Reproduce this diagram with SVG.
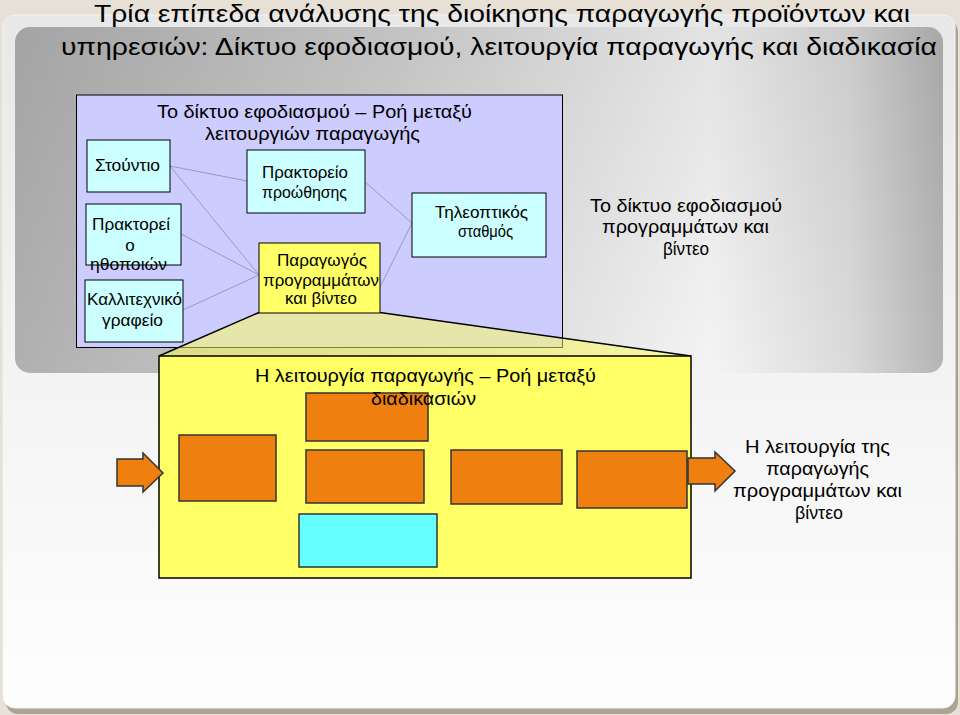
<svg xmlns="http://www.w3.org/2000/svg" width="960" height="715" viewBox="0 0 960 715">
<defs>
<linearGradient id="outerG" x1="0" y1="0" x2="0" y2="1"><stop offset="0" stop-color="#e8e8e8"/><stop offset="1" stop-color="#fefefe"/></linearGradient>
<linearGradient id="grayH" x1="0" y1="0" x2="1" y2="0"><stop offset="0" stop-color="#b0b0b0"/><stop offset="0.4" stop-color="#d0d0d0"/><stop offset="0.75" stop-color="#f4f4f4"/><stop offset="0.9" stop-color="#dadada"/><stop offset="1" stop-color="#b4b4b4"/></linearGradient>
<linearGradient id="grayV" x1="0" y1="0" x2="0" y2="1"><stop offset="0" stop-color="#000" stop-opacity="0.07"/><stop offset="1" stop-color="#000" stop-opacity="0"/></linearGradient>
<style>
text{font-family:"Liberation Sans",Arial,sans-serif;fill:#000}
.title{font-size:24px}
.t{font-size:17px}
.tm{font-size:18.5px}
.box{fill:#ccffff;stroke:#000;stroke-width:1}
.prod{fill:#ffff66;stroke:#000;stroke-width:1}
.or{fill:#ef8010;stroke:#333;stroke-width:1.5}
.cy{fill:#66ffff;stroke:#333;stroke-width:1.5}
.cb{stroke:#8a8ac0;stroke-width:0.8;fill:none}
.cy2{stroke:#cfc677;stroke-width:1;fill:none}
</style>
</defs>
<rect x="0" y="0" width="960" height="715" fill="#e6e0d6"/>
<rect x="6" y="20" width="952" height="694" rx="12" fill="#aca493"/>
<rect x="3" y="15" width="952" height="693" rx="12" fill="url(#outerG)" stroke="#f4f4f4" stroke-width="1"/>
<rect x="15" y="27" width="928" height="346" rx="15" fill="url(#grayH)"/>
<rect x="15" y="27" width="928" height="346" rx="15" fill="url(#grayV)"/>

<g id="title">
<text class="title" x="94" y="22" textLength="816" lengthAdjust="spacingAndGlyphs">Τρία επίπεδα ανάλυσης της διοίκησης παραγωγής προϊόντων και</text>
<text class="title" x="61" y="55" textLength="876" lengthAdjust="spacingAndGlyphs">υπηρεσιών: Δίκτυο εφοδιασμού, λειτουργία παραγωγής και διαδικασία</text>
</g>

<g id="supply-network">
<rect x="76.5" y="95" width="486" height="252.5" fill="#ccccff" stroke="#000" stroke-width="1"/>
<text class="tm" x="157" y="118" textLength="315" lengthAdjust="spacingAndGlyphs">Το δίκτυο εφοδιασμού – Ροή μεταξύ</text>
<text class="tm" x="205" y="140" textLength="215" lengthAdjust="spacingAndGlyphs">λειτουργιών παραγωγής</text>
</g>

<g id="connectors">
<line class="cb" x1="170" y1="166" x2="247" y2="181"/>
<line class="cb" x1="170" y1="166" x2="259" y2="275"/>
<line class="cb" x1="181" y1="234" x2="259" y2="275"/>
<line class="cb" x1="183" y1="310" x2="259" y2="275"/>
<line class="cb" x1="365" y1="182" x2="412" y2="223"/>
<line class="cb" x1="380" y1="287" x2="412" y2="223"/>
<line class="cy2" x1="276" y1="467" x2="306" y2="418"/>
<line class="cy2" x1="276" y1="469" x2="306" y2="476"/>
<line class="cy2" x1="276" y1="469" x2="299" y2="537"/>
<line class="cy2" x1="428" y1="420" x2="451" y2="477"/>
<line class="cy2" x1="424" y1="477" x2="451" y2="477"/>
<line class="cy2" x1="437" y1="533" x2="451" y2="477"/>
<line class="cy2" x1="562" y1="477" x2="577" y2="479"/>
</g>

<g id="studio"><rect class="box" x="87" y="140" width="83" height="52"/>
<text class="t" x="95" y="171" textLength="65" lengthAdjust="spacingAndGlyphs">Στούντιο</text></g>

<g id="actors-agency"><rect class="box" x="86" y="204" width="95" height="61"/>
<text class="t" x="92" y="230" textLength="78" lengthAdjust="spacingAndGlyphs">Πρακτορεί</text>
<text class="t" x="130" y="251" text-anchor="middle">ο</text>
<text class="t" x="90" y="270" textLength="77" lengthAdjust="spacingAndGlyphs">ηθοποιών</text></g>

<g id="artist-office"><rect class="box" x="85" y="280" width="98" height="62"/>
<text class="t" x="87" y="305" textLength="95" lengthAdjust="spacingAndGlyphs">Καλλιτεχνικό</text>
<text class="t" x="102" y="326" textLength="61" lengthAdjust="spacingAndGlyphs">γραφείο</text></g>

<g id="promo-agency"><rect class="box" x="247" y="150" width="118" height="63"/>
<text class="t" x="262" y="178" textLength="86" lengthAdjust="spacingAndGlyphs">Πρακτορείο</text>
<text class="t" x="262" y="198" textLength="85" lengthAdjust="spacingAndGlyphs">προώθησης</text></g>

<g id="tv-station"><rect class="box" x="412" y="193" width="134" height="64"/>
<text class="t" x="435" y="218" textLength="93" lengthAdjust="spacingAndGlyphs">Τηλεοπτικός</text>
<text class="t" x="458" y="237" textLength="55" lengthAdjust="spacingAndGlyphs">σταθμός</text></g>

<g id="zoom">
<polygon points="259,312.5 380,312.5 691,356 159,356" fill="#ffff55" fill-opacity="0.5"/>
<line x1="259" y1="312.5" x2="159" y2="356" stroke="#000" stroke-width="1.5"/>
<line x1="380" y1="312.5" x2="691" y2="356" stroke="#000" stroke-width="1.5"/>
</g>

<g id="producer"><rect class="prod" x="259" y="243" width="121" height="70"/>
<text class="t" x="277" y="266" textLength="90" lengthAdjust="spacingAndGlyphs">Παραγωγός</text>
<text class="t" x="263" y="286" textLength="116" lengthAdjust="spacingAndGlyphs">προγραμμάτων</text>
<text class="t" x="285" y="304" textLength="72" lengthAdjust="spacingAndGlyphs">και βίντεο</text></g>

<g id="right-label-1">
<text class="tm" x="590" y="212" textLength="192" lengthAdjust="spacingAndGlyphs">Το δίκτυο εφοδιασμού</text>
<text class="tm" x="602" y="233" textLength="167" lengthAdjust="spacingAndGlyphs">προγραμμάτων και</text>
<text class="tm" x="663" y="255" textLength="46" lengthAdjust="spacingAndGlyphs">βίντεο</text>
</g>

<g id="production-function">
<rect x="159" y="356" width="532" height="222" fill="#ffff66" stroke="#000" stroke-width="1.5"/>
</g>

<g id="inner-boxes">
<rect class="or" x="179" y="435" width="97" height="66" id="p1"/>
<rect class="or" x="306" y="393" width="122" height="48" id="p2"/>
<rect class="or" x="306" y="450" width="118" height="53" id="p3"/>
<rect class="cy" x="299" y="514" width="138" height="53" id="p4"/>
<rect class="or" x="451" y="450" width="111" height="54" id="p5"/>
<rect class="or" x="577" y="451" width="110" height="57" id="p6"/>
</g>

<g id="production-title">
<text class="tm" x="255" y="382" textLength="341" lengthAdjust="spacingAndGlyphs">Η λειτουργία παραγωγής – Ροή μεταξύ</text>
<text class="tm" x="371" y="405" textLength="105" lengthAdjust="spacingAndGlyphs">διαδικασιών</text>
</g>

<g id="arrow-in">
<polygon class="or" points="117,459 143,459 143,453 163,473 143,492 143,486 117,486"/>
</g>
<g id="arrow-out">
<polygon class="or" points="688,458 715,458 715,452 735,471 715,491 715,484 688,484"/>
</g>

<g id="right-label-2">
<text class="tm" x="745" y="453" textLength="145" lengthAdjust="spacingAndGlyphs">Η λειτουργία της</text>
<text class="tm" x="766" y="475" textLength="103" lengthAdjust="spacingAndGlyphs">παραγωγής</text>
<text class="tm" x="733" y="497" textLength="169" lengthAdjust="spacingAndGlyphs">προγραμμάτων και</text>
<text class="tm" x="795" y="519" textLength="48" lengthAdjust="spacingAndGlyphs">βίντεο</text>
</g>
</svg>
